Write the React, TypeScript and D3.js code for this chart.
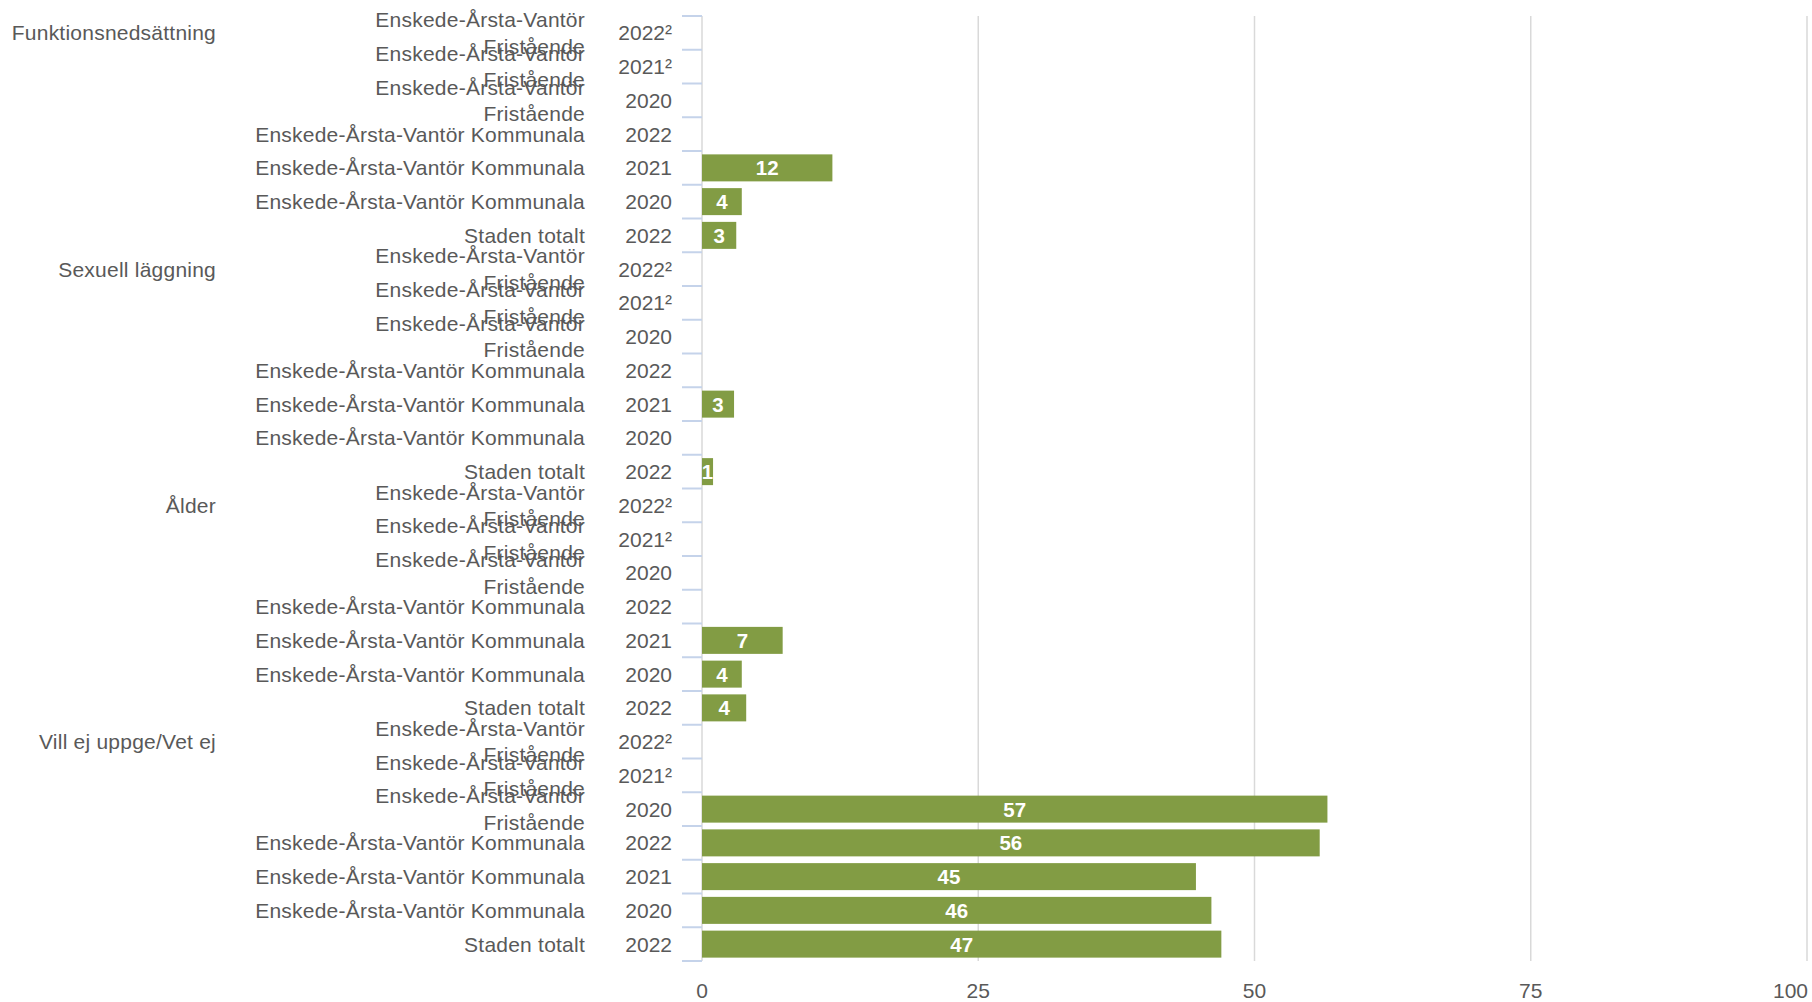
import React from "react";
import * as d3 from "d3";

const groups = ["Funktionsnedsättning", "Sexuell läggning", "Ålder", "Vill ej uppge/Vet ej"];
const units = [
  "Enskede-Årsta-Vantör Fristående",
  "Enskede-Årsta-Vantör Fristående",
  "Enskede-Årsta-Vantör Fristående",
  "Enskede-Årsta-Vantör Kommunala",
  "Enskede-Årsta-Vantör Kommunala",
  "Enskede-Årsta-Vantör Kommunala",
  "Staden totalt",
];
const years = ["2022²", "2021²", "2020", "2022", "2021", "2020", "2022"];

const valuesFunktion: (number | null)[] = [null, null, null, null, 11.8, 3.6, 3.1];
const valuesSexuell: (number | null)[] = [null, null, null, null, 2.9, null, 1.0];
const valuesAlder: (number | null)[] = [null, null, null, null, 7.3, 3.6, 4.0];
const valuesVillEj: (number | null)[] = [null, null, 56.6, 55.9, 44.7, 46.1, 47.0];
const seriesValues = [valuesFunktion, valuesSexuell, valuesAlder, valuesVillEj];

const xTicks = [0, 25, 50, 75, 100];

const W = 1812;
const H = 1002;
const FONT = "'Liberation Sans', Arial, sans-serif";
const TEXT = "#595959";
const BAR = "#829c44";

type Row = { key: string; group: string; gi: number; ri: number; unit: string; year: string; value: number | null };

const rows: Row[] = [];
groups.forEach((g, gi) => {
  units.forEach((u, ri) => {
    rows.push({ key: `${gi}-${ri}`, group: g, gi, ri, unit: u, year: years[ri], value: seriesValues[gi][ri] });
  });
});

export default function App() {
  const x = d3.scaleLinear().domain([0, 100]).range([702, 1807]);
  const y = d3
    .scaleBand<string>()
    .domain(rows.map((r) => r.key))
    .range([16, 961])
    .paddingInner(0.2)
    .paddingOuter(0.1);
  const step = y.step();
  const bandTop = (k: string) => (y(k) as number) - step * y.paddingInner() / 2;
  const center = (k: string) => (y(k) as number) + y.bandwidth() / 2;
  const fmt = d3.format(".0f");
  const yTop = 16;
  const yBottom = 961;
  const ls = 0.23;

  return (
    <svg width={W} height={H} style={{ position: "absolute", left: 0, top: 0, background: "#fff" }} fontFamily={FONT}>
      {xTicks.filter((t) => t > 0).map((t) => (
        <line key={"g" + t} x1={x(t)} x2={x(t)} y1={yTop} y2={yBottom} stroke="#d9d9d9" strokeWidth={1.5} />
      ))}
      <line x1={x(0)} x2={x(0)} y1={yTop} y2={yBottom} stroke="#d9d9d9" strokeWidth={1.5} />
      {rows.map((r) => (
        <line key={"t" + r.key} x1={x(0) - 20} x2={x(0)} y1={bandTop(r.key)} y2={bandTop(r.key)} stroke="#c5d3ea" strokeWidth={2} />
      ))}
      <line x1={x(0) - 20} x2={x(0)} y1={yBottom} y2={yBottom} stroke="#c5d3ea" strokeWidth={2} />
      {rows.filter((r) => r.value != null).map((r) => (
        <g key={"b" + r.key}>
          <rect x={x(0)} y={y(r.key)} width={x(r.value as number) - x(0)} height={y.bandwidth()} fill={BAR} />
          <text
            x={(x(0) + x(r.value as number)) / 2}
            y={center(r.key)}
            dy="0.36em"
            textAnchor="middle"
            fill="#fff"
            fontWeight="bold"
            fontSize={20.5}
          >
            {fmt(r.value as number)}
          </text>
        </g>
      ))}
      {rows.map((r) => (
        <text key={"y" + r.key} x={672} y={center(r.key)} dy="0.36em" textAnchor="end" fill={TEXT} fontSize={21}>
          {r.year}
        </text>
      ))}
      {rows.map((r) => {
        const c = center(r.key);
        if (r.unit.endsWith("Fristående")) {
          const parts = ["Enskede-Årsta-Vantör", "Fristående"];
          return (
            <g key={"u" + r.key}>
              <text x={585} y={c - 13.3} dy="0.36em" textAnchor="end" fill={TEXT} fontSize={21} letterSpacing={ls}>{parts[0]}</text>
              <text x={585} y={c + 13.3} dy="0.36em" textAnchor="end" fill={TEXT} fontSize={21} letterSpacing={ls}>{parts[1]}</text>
            </g>
          );
        }
        return (
          <text key={"u" + r.key} x={585} y={c} dy="0.36em" textAnchor="end" fill={TEXT} fontSize={21} letterSpacing={ls}>
            {r.unit}
          </text>
        );
      })}
      {groups.map((g, gi) => (
        <text key={"gr" + gi} x={216} y={center(`${gi}-0`)} dy="0.36em" textAnchor="end" fill={TEXT} fontSize={21} letterSpacing={ls}>
          {g}
        </text>
      ))}
      {xTicks.map((t) => {
        const w = String(t).length * 0.556 * 21;
        const cx = Math.min(x(t), W - 4 - w / 2);
        return (
          <text key={"xl" + t} x={cx} y={990} dy="0.36em" textAnchor="middle" fill={TEXT} fontSize={21}>
            {t}
          </text>
        );
      })}
    </svg>
  );
}
